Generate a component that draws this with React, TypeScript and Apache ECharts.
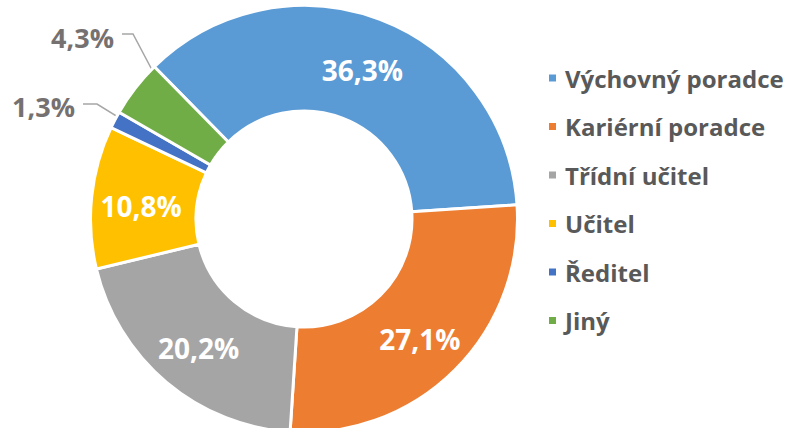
import React, { useEffect, useRef } from "react";
import * as echarts from "echarts";

const categories = [
  "Výchovný poradce",
  "Kariérní poradce",
  "Třídní učitel",
  "Učitel",
  "Ředitel",
  "Jiný",
];
const values = [36.3, 27.1, 20.2, 10.8, 1.3, 4.3];
const colors = ["#5B9BD5", "#ED7D31", "#A5A5A5", "#FFC000", "#4472C4", "#70AD47"];
// which slices get an outside label with a leader line
const outsideLabel = [false, false, false, false, true, true];

const FONT = "'Open Sans', 'Noto Sans', sans-serif";
const CENTER: [number, number] = [304, 219];
const R_IN = 108;
const R_OUT = 213.5;
// anchor for outside labels: [elbowX, elbowY, endX, textRightX, textMidY]
const outsideAnchors: Record<number, number[]> = {
  4: [97, 104, 83, 75, 106],
  5: [133, 34, 122, 114, 37],
};

export default function App() {
  const ref = useRef<HTMLDivElement>(null);
  useEffect(() => {
    if (!ref.current) return;
    const chart = echarts.init(ref.current, null, { renderer: "svg" });
    const fmt = (v: number) => v.toFixed(1).replace(".", ",") + "%";
    const data = categories.map((name, i) => ({
      name,
      value: values[i],
      itemStyle: { color: colors[i] },
      label: outsideLabel[i]
        ? {
            show: true,
            position: "outside",
            color: "#767171",
            fontSize: 27,
            fontWeight: "bold",
            fontFamily: FONT,
          }
        : {
            show: true,
            position: "inside",
            color: "#FFFFFF",
            fontSize: 28,
            fontWeight: "bold",
            fontFamily: FONT,
            offset: [0, 4],
          },
      labelLine: outsideLabel[i]
        ? { show: true, lineStyle: { color: "#A6A6A6", width: 1.5 } }
        : { show: false },
    }));
    chart.setOption({
      animation: false,
      legend: {
        orient: "vertical",
        left: 547,
        top: 66,
        padding: 0,
        itemWidth: 9,
        itemHeight: 9,
        itemGap: 24.5,
        icon: "rect",
        data: categories,
        textStyle: {
          fontFamily: FONT,
          fontSize: 24,
          fontWeight: "bold",
          color: "#595959",
          lineHeight: 24,
          padding: [0, 0, 0, 3],
        },
      },
      series: [
        {
          type: "pie",
          center: CENTER,
          radius: [R_IN, R_OUT],
          startAngle: 134.5,
          clockwise: true,
          avoidLabelOverlap: false,
          itemStyle: { borderColor: "#FFFFFF", borderWidth: 3 },
          emphasis: { disabled: true },
          label: {
            formatter: (p: any) => fmt(p.value),
          },
          labelLayout: (params: any) => {
            const a = outsideAnchors[params.dataIndex];
            if (!a || !params.labelLinePoints) return {};
            const p0 = params.labelLinePoints[0];
            const dx = p0[0] - CENTER[0];
            const dy = p0[1] - CENTER[1];
            const len = Math.sqrt(dx * dx + dy * dy) || 1;
            const midR = (R_IN + R_OUT) / 2 - 4;
            const start = [CENTER[0] + (dx / len) * midR, CENTER[1] + (dy / len) * midR];
            return {
              x: a[3],
              y: a[4],
              align: "right",
              verticalAlign: "middle",
              labelLinePoints: [start, [a[0], a[1]], [a[2], a[1]]],
            };
          },
          data,
        },
      ],
    });
    return () => chart.dispose();
  }, []);
  return (
    <div
      ref={ref}
      style={{ position: "absolute", left: 0, top: 0, width: 793, height: 428, background: "#fff" }}
    />
  );
}
